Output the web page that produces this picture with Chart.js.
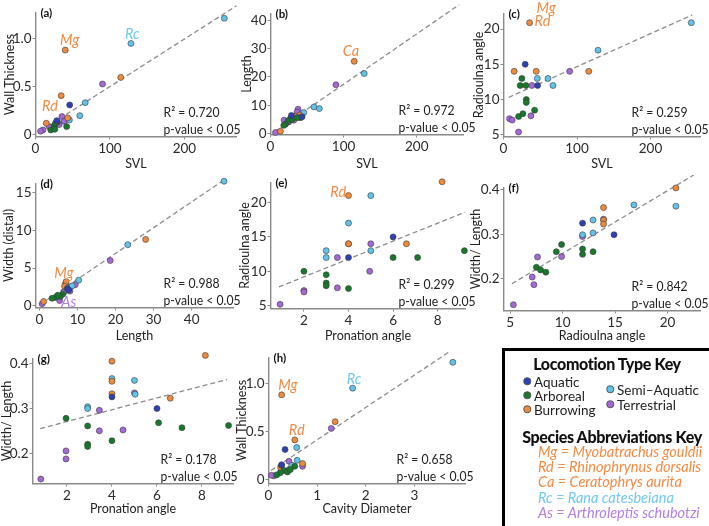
<!DOCTYPE html>
<html>
<head>
<meta charset="utf-8">
<script src="https://cdn.jsdelivr.net/npm/chart.js@4.4.1/dist/chart.umd.min.js"></script>
<style>
  body { margin: 0; background: #fff; }
  #wrap { position: relative; width: 709px; height: 526px; overflow: hidden; font-family: Lato, 'Open Sans', sans-serif; }
  #wrap canvas { position: absolute; }
  #key { position: absolute; left: 502px; top: 348px; width: 220px; height: 200px;
         border-left: 3px solid #000; border-top: 3px solid #000; }
  .t { position: absolute; white-space: nowrap; transform: translate(-50%, -50%); color: #111; }
  .h { font-weight: 900; font-size: 16px; letter-spacing: -0.35px; }
  .it { font-size: 13.5px; color: #222; transform: translate(0, -50%); }
  .dot { position: absolute; width: 5.5px; height: 5.5px; border-radius: 50%; transform: translate(-50%, -50%); border: 0.5px solid #555; }
  .sp { font-style: italic; font-size: 14.5px; transform: translate(0, -50%); }
</style>
</head>
<body>
<div id="wrap"></div>

<script>
// locomotion categories (codes used below: Q A B S T)
const locomotion = ['Aquatic', 'Arboreal', 'Burrowing', 'Semi–Aquatic', 'Terrestrial'];
const typeCodes = ['Q', 'A', 'B', 'S', 'T'];
const typeColors = ['#2d40b5', '#16792c', '#ef8a3b', '#5fc3ec', '#a468d9'];

// (a) SVL vs wall thickness
const aSVL = [253.6, 128.2, 40, 114.5, 90, 34.5, 66.8, 45.9, 59.5, 45.5, 43.2, 35.5, 38.6, 28.6, 29.5, 14.5, 31.8, 25, 41.8, 20.5, 10, 6.8, 26, 18.2, 27];
const aWall = [1.21, 0.948, 0.879, 0.595, 0.526, 0.405, 0.332, 0.308, 0.197, 0.152, 0.173, 0.187, 0.138, 0.145, 0.13, 0.118, 0.104, 0.093, 0.083, 0.048, 0.048, 0.035, 0.055, 0.083, 0.12];
const aType = ['S','S','B','B','T','B','S','Q','S','S','B','T','T','Q','A','B','T','A','A','A','T','T','A','T','A'];

// (b) SVL vs length
const bSVL = [254.5, 114.5, 128.2, 89.5, 59.5, 66.8, 45.5, 37.7, 36.4, 40, 34, 28.6, 43.2, 41, 31.8, 27.3, 24, 18.6, 20.5, 18.2, 13.6, 6.8, 29.5, 25, 36.4];
const bLength = [44.5, 25.5, 21.2, 17.2, 9.4, 8.8, 7.4, 8.6, 7.6, 6.5, 6.1, 6.4, 5.9, 5.6, 4.7, 5.3, 4.5, 4.7, 3.3, 2.9, 0.8, 0.35, 5.0, 4.1, 5.6];
const bType = ['S','B','S','T','S','S','S','T','T','B','B','Q','Q','A','T','A','A','T','A','A','B','T','A','T','A'];

// (c) SVL vs radioulna angle
const cSVL = [40, 35.5, 255.5, 128.6, 29.5, 14.5, 44.5, 90, 116, 46, 60.5, 25, 22.7, 30.5, 38.6, 46.4, 67.3, 31, 31, 42.3, 26.4, 20.5, 37.3, 8.2, 11.8, 20.5];
const cRadio = [23, 20.9, 20.9, 17, 15, 14, 14, 14, 14, 13, 13, 13, 12, 12, 12, 12, 12, 10, 9.6, 8.5, 8, 7.6, 7.7, 7.3, 7.1, 5.4];
const cType = ['B','B','S','S','Q','B','B','T','B','S','S','A','A','A','T','Q','S','A','A','A','A','A','T','T','T','T'];

// (d) length vs width (distal)
const dLength = [48.5, 27.9, 23.2, 18.6, 10.3, 9.4, 8.1, 6.8, 7.0, 6.6, 7.3, 7.7, 8.0, 6.1, 5.5, 4.2, 3.3, 4.8, 5.3, 1.1, 0.7, 8.6, 6.4];
const dWidth = [16.5, 8.8, 8.1, 6.0, 3.4, 2.8, 2.5, 2.9, 3.2, 2.6, 2.3, 2.1, 1.95, 1.55, 1.25, 1.1, 1.0, 1.4, 0.7, 0.58, 0.27, 2.65, 1.8];
const dType = ['S','B','S','T','S','T','S','B','B','B','Q','Q','T','A','A','A','A','A','T','B','T','S','T'];

// (e) pronation angle vs radioulna angle
const ePron = [0.93, 2, 2, 2, 3, 3, 3, 3, 3, 3.5, 3.5, 4, 4, 4, 4, 4, 4, 5, 5, 5, 4.95, 6, 6, 6.6, 7.1, 8.2, 9.2];
const eRadio = [5.2, 7.2, 7.0, 10, 13, 12, 9.5, 8.3, 7.9, 12, 7.6, 21, 17, 14, 14, 12, 7.5, 21, 14, 13, 10, 15, 12, 14, 12, 23, 13];
const eType = ['T','T','T','A','S','S','A','A','A','T','T','B','S','B','B','Q','A','S','T','S','T','Q','A','B','A','B','A'];

// (f) radioulna angle vs width/length
const fRadio = [5.3, 7.26, 7.1, 7.6, 7.5, 7.9, 8.4, 9.4, 9.9, 9.9, 11.9, 11.9, 12.9, 11.9, 11.9, 11.9, 12.9, 12.9, 13.9, 13.9, 13.9, 13.9, 14.9, 16.8, 20.8, 20.8, 22.8];
const fRatio = [0.142, 0.187, 0.204, 0.249, 0.226, 0.220, 0.215, 0.261, 0.277, 0.250, 0.267, 0.255, 0.261, 0.295, 0.299, 0.325, 0.332, 0.303, 0.334, 0.332, 0.323, 0.360, 0.299, 0.366, 0.363, 0.404, 0.419];
const fType = ['T','T','T','T','A','A','A','A','A','T','A','A','A','T','S','Q','S','S','T','B','B','B','Q','S','S','B','B'];

// (g) pronation angle vs width/length
const gPron = [0.84, 1.96, 1.96, 1.96, 2.92, 2.92, 2.92, 2.92, 2.92, 3.44, 3.44, 4, 4, 4, 4, 4, 4, 5, 5, 5.03, 4.49, 6, 6.07, 6.59, 7.11, 8.15, 9.18];
const gRatio = [0.142, 0.205, 0.187, 0.278, 0.304, 0.300, 0.261, 0.220, 0.215, 0.296, 0.250, 0.406, 0.367, 0.361, 0.333, 0.326, 0.228, 0.363, 0.335, 0.332, 0.252, 0.300, 0.268, 0.323, 0.257, 0.419, 0.262];
const gType = ['T','T','T','A','S','S','A','A','A','T','T','B','S','B','B','Q','A','S','T','S','T','Q','A','B','A','B','A'];

// (h) cavity diameter vs wall thickness
const hCavity = [3.79, 1.73, 0.27, 1.37, 1.29, 0.54, 0.58, 0.34, 0.59, 0.70, 0.70, 0.42, 0.48, 0.42, 0.25, 0.27, 0.54, 0.32, 0.39, 0.24, 0.17, 0.11, 0.06, 0.27, 0.45];
const hWall = [1.22, 0.95, 0.88, 0.60, 0.53, 0.41, 0.33, 0.31, 0.197, 0.163, 0.135, 0.187, 0.145, 0.100, 0.12, 0.145, 0.135, 0.09, 0.076, 0.066, 0.045, 0.035, 0.04, 0.15, 0.1];
const hType = ['S','S','B','B','T','B','S','Q','S','B','T','T','S','T','B','A','A','A','A','A','A','T','T','Q','A'];

// regression line end points [x0, x1], [y0, y1]
const aFitX = [5, 270], aFitY = [0.03, 1.34];
const bFitX = [5, 258], bFitY = [0.5, 45.5];
const cFitX = [6.8, 256.8], cFitY = [10.3, 22.0];
const dFitX = [0.3, 48.6], dFitY = [0.22, 16.7];
const eFitX = [0.88, 9.24], eFitY = [7.74, 18.6];
const fFitX = [5.16, 22.5], fFitY = [0.189, 0.433];
const gFitX = [0.81, 9.11], gFitY = [0.255, 0.365];
const hFitX = [0.05, 3.72], hFitY = [0.09, 1.33];

// R squared per panel
const rSquared = ['0.720', '0.972', '0.259', '0.988', '0.299', '0.842', '0.178', '0.658'];

// species abbreviations written next to points: [abbr, x, y]
const aNotes = [['Mg', 46, 0.98], ['Rc', 130, 1.045], ['Rd', 19.5, 0.29]];
const bNotes = [['Ca', 110, 29.2]];
const cNotes = [['Mg', 58, 23], ['Rd', 53, 21.1]];
const dNotes = [['Mg', 6.4, 4.36], ['As', 7.7, 0.45]];
const eNotes = [['Rd', 3.54, 21.4]];
const hNotes = [['Mg', 0.40, 0.976], ['Rc', 1.76, 1.045], ['Rd', 0.58, 0.51]];

const speciesKey = [
  ['Mg', 'Myobatrachus gouldii', '#f28c45'],
  ['Rd', 'Rhinophrynus dorsalis', '#f28c45'],
  ['Ca', 'Ceratophrys aurita', '#f28c45'],
  ['Rc', 'Rana catesbeiana', '#74c9ee'],
  ['As', 'Arthroleptis schubotzi', '#b27fe3']
];
const noteColor = Object.fromEntries(speciesKey.map(s => [s[0], s[2]]));

const FONT = "Lato, 'Open Sans', sans-serif";
Chart.defaults.font.family = FONT;

const fmt1 = v => (v === 0 ? '0' : v.toFixed(1));

const panels = [
  { tag: '(a)', x: aSVL, y: aWall, type: aType, fitX: aFitX, fitY: aFitY, notes: aNotes,
    xTitle: 'SVL', yTitle: 'Wall Thickness', xRange: [0, 270], yRange: [-0.02, 1.27],
    xTicks: [0, 100, 200], yTicks: [0, 0.5, 1.0], yFmt: fmt1,
    box: [35, 12, 236, 136], yTitleX: 9, xTitleY: 163 },
  { tag: '(b)', x: bSVL, y: bLength, type: bType, fitX: bFitX, fitY: bFitY, notes: bNotes,
    xTitle: 'SVL', yTitle: 'Length', xRange: [0, 264], yRange: [-0.35, 42.4],
    xTicks: [0, 100, 200], yTicks: [0, 10, 20, 30, 40],
    box: [270, 13, 463, 134], yTitleX: 246, xTitleY: 163 },
  { tag: '(c)', x: cSVL, y: cRadio, type: cType, fitX: cFitX, fitY: cFitY, notes: cNotes,
    xTitle: 'SVL', yTitle: 'Radioulna angle', xRange: [0, 268], yRange: [4.77, 22.2],
    xTicks: [0, 100, 200], yTicks: [5, 10, 15, 20],
    box: [503, 13, 700, 136], yTitleX: 478, xTitleY: 163 },
  { tag: '(d)', x: dLength, y: dWidth, type: dType, fitX: dFitX, fitY: dFitY, notes: dNotes,
    xTitle: 'Length', yTitle: 'Width (distal)', xRange: [-1.05, 51], yRange: [-0.22, 16.2],
    xTicks: [0, 10, 20, 30, 40], yTicks: [0, 5, 10, 15],
    box: [35, 183, 233, 307], yTitleX: 8, xTitleY: 335 },
  { tag: '(e)', x: ePron, y: eRadio, type: eType, fitX: eFitX, fitY: eFitY, notes: eNotes,
    xTitle: 'Pronation angle', yTitle: 'Radioulna angle', xRange: [0.5, 9.25], yRange: [4.6, 22.9],
    xTicks: [2, 4, 6, 8], yTicks: [5, 10, 15, 20],
    box: [270, 182, 465, 308], yTitleX: 244, xTitleY: 335 },
  { tag: '(f)', x: fRadio, y: fRatio, type: fType, fitX: fFitX, fitY: fFitY, notes: [],
    xTitle: 'Radioulna angle', yTitle: 'Width/ Length', xRange: [4.36, 23.15], yRange: [0.129, 0.405],
    xTicks: [5, 10, 15, 20], yTicks: [0.2, 0.3, 0.4], yFmt: fmt1,
    box: [503, 187, 700, 310], yTitleX: 475, xTitleY: 335 },
  { tag: '(g)', x: gPron, y: gRatio, type: gType, fitX: gFitX, fitY: gFitY, notes: [],
    xTitle: 'Pronation angle', yTitle: 'Width/ Length', xRange: [0.47, 9.4], yRange: [0.132, 0.412],
    xTicks: [2, 4, 6, 8], yTicks: [0.2, 0.3, 0.4], yFmt: fmt1,
    box: [32, 358, 233, 483], yTitleX: 6, xTitleY: 508 },
  { tag: '(h)', x: hCavity, y: hWall, type: hType, fitX: hFitX, fitY: hFitY, notes: hNotes,
    xTitle: 'Cavity Diameter', yTitle: 'Wall Thickness', xRange: [0, 4.05], yRange: [-0.045, 1.27],
    xTicks: [0, 1, 2, 3], yTicks: [0, 0.5, 1.0], yFmt: fmt1,
    box: [268, 357, 465, 483], yTitleX: 241, xTitleY: 508 }
];

// text drawn on top of each panel: tag, R², p-value and species abbreviations
const panelText = {
  id: 'panelText',
  afterDatasetsDraw(chart, args, opts) {
    const { ctx, chartArea: ca, scales } = chart;
    ctx.save();
    ctx.textBaseline = 'middle';
    ctx.fillStyle = '#111';
    ctx.font = 'bold 11.5px ' + FONT;
    ctx.fillText(opts.tag, ca.left + 5, ca.top + 1);

    // stats text, slightly condensed like the original typeface
    ctx.save();
    ctx.fillStyle = '#222';
    ctx.font = '14px ' + FONT;
    ctx.translate(ca.left + 128, 0);
    ctx.scale(0.87, 1);
    ctx.fillText('R² = ' + opts.r2, 0, ca.bottom - 24);
    ctx.fillText('p-value < 0.05', 0, ca.bottom - 7.5);
    ctx.restore();

    ctx.font = 'italic 14.5px ' + FONT;
    ctx.textAlign = 'center';
    opts.notes.forEach(([abbr, x, y]) => {
      ctx.fillStyle = noteColor[abbr];
      ctx.fillText(abbr, scales.x.getPixelForValue(x), scales.y.getPixelForValue(y));
    });
    ctx.restore();
  }
};

const wrap = document.getElementById('wrap');
const lh = 15; // title line height

panels.forEach((p, i) => {
  const [L, T, R, B] = p.box;
  const yW = L - p.yTitleX + lh / 2;
  const xH = p.xTitleY - B + lh / 2;
  const width = Math.ceil(yW + (R - L) + 24);
  const height = Math.ceil(12 + (B - T) + xH);
  const padTop = height - (B - T) - xH;
  const padRight = width - yW - (R - L);

  const canvas = document.createElement('canvas');
  canvas.width = width;
  canvas.height = height;
  canvas.style.left = (L - yW) + 'px';
  canvas.style.top = (T - padTop) + 'px';
  wrap.appendChild(canvas);

  const datasets = locomotion.map((name, k) => {
    const pts = [];
    p.x.forEach((xv, j) => { if (p.type[j] === typeCodes[k]) pts.push({ x: xv, y: p.y[j] }); });
    return {
      label: name, data: pts, backgroundColor: typeColors[k], borderColor: '#3a3a3a',
      borderWidth: 0.6, pointRadius: 3, clip: false, order: 1
    };
  });
  datasets.push({
    type: 'line', label: 'fit', showLine: true, clip: false, order: 10,
    data: [{ x: p.fitX[0], y: p.fitY[0] }, { x: p.fitX[1], y: p.fitY[1] }],
    borderColor: '#8c8c8c', borderWidth: 1.3, borderDash: [5, 3], pointRadius: 0, fill: false
  });

  const axis = (range, ticks, title, fitFn, fmt) => ({
    type: 'linear', min: range[0], max: range[1],
    afterBuildTicks: s => { s.ticks = ticks.map(v => ({ value: v })); },
    afterFit: fitFn,
    grid: { display: true, drawOnChartArea: false, drawTicks: true, tickLength: 3, color: '#8a8a8a' },
    border: { display: true, color: '#8a8a8a', width: 1.4 },
    ticks: { color: '#2a2a2a', padding: 1, font: { size: 13.5 }, callback: v => (fmt ? fmt(v) : String(v)) },
    title: { display: true, text: title, color: '#222', padding: 0, font: { size: 12.5, lineHeight: 1.2 } }
  });

  new Chart(canvas, {
    type: 'scatter',
    data: { datasets },
    options: {
      responsive: false,
      animation: false,
      events: [],
      layout: { padding: { left: 0, top: padTop, right: padRight, bottom: 0 } },
      plugins: {
        legend: { display: false },
        tooltip: { enabled: false },
        panelText: { tag: p.tag, r2: rSquared[i], notes: p.notes }
      },
      scales: {
        x: axis(p.xRange, p.xTicks, p.xTitle, s => { s.height = xH; }, null),
        y: axis(p.yRange, p.yTicks, p.yTitle, s => { s.width = yW; }, p.yFmt)
      }
    },
    plugins: [panelText]
  });
});

// key box in the lower right corner
const key = document.createElement('div');
key.id = 'key';
wrap.appendChild(key);

function put(html, cls, x, y, color) {
  const d = document.createElement('div');
  d.className = cls;
  d.innerHTML = html;
  d.style.left = x + 'px';
  d.style.top = y + 'px';
  if (color) d.style.color = color;
  wrap.appendChild(d);
  return d;
}

put('Locomotion Type Key', 't h', 607, 363);
const keySpots = [[527, 381], [527, 395], [527, 409], [610, 389], [610, 404]];
locomotion.forEach((name, k) => {
  const [x, y] = keySpots[k];
  const dot = put('', 'dot', x, y);
  dot.style.background = typeColors[k];
  put(name, 't it', x + 7, y + 1);
});
put('Species Abbreviations Key', 't h', 612, 436);
speciesKey.forEach(([abbr, full, color], k) => {
  put(abbr + ' = ' + full, 't sp', 538, 451 + k * 15.2, color);
});
</script>
</body>
</html>
